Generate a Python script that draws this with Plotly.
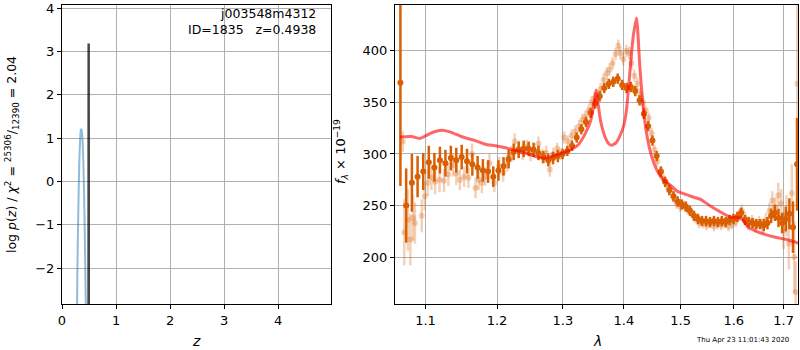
import plotly.graph_objects as go

# ---------------- data ----------------
# left panel: log p(z)
pz_z = [0.276, 0.283, 0.290, 0.300, 0.310, 0.320, 0.330, 0.340, 0.350, 0.360, 0.370,
        0.380, 0.390, 0.400, 0.410, 0.420, 0.430, 0.440, 0.450]
pz_logp = [-3.2, -2.3, -1.6, -0.85, -0.15, 0.40, 0.80, 1.06, 1.19, 1.20, 1.14,
           0.95, 0.63, 0.19, -0.38, -1.07, -1.89, -2.83, -3.3]
best_z = [0.4915, 0.4938, 0.4961]
best_logp = [-3.2, 3.18, -3.2]

# right panel: spectrum 1 (solid)
wave_a = [1.0670, 1.0745, 1.0820, 1.0895, 1.0970, 1.1045, 1.1120, 1.1195, 1.1270, 1.1345,
          1.1420, 1.1495, 1.1570, 1.1645, 1.1720, 1.1795, 1.1870, 1.1945, 1.2020, 1.2095,
          1.2170, 1.2245, 1.2320, 1.2395, 1.2470, 1.2545, 1.2620, 1.2695, 1.2770, 1.2845,
          1.2920, 1.2995, 1.3070, 1.3145, 1.3220, 1.3295, 1.3370, 1.3445, 1.3520, 1.3595,
          1.3670, 1.3745, 1.3820, 1.3895, 1.3970, 1.4045, 1.4120, 1.4195, 1.4270, 1.4345,
          1.4420, 1.4495, 1.4570, 1.4645, 1.4720, 1.4795, 1.4870, 1.4945, 1.5020, 1.5095,
          1.5170, 1.5245, 1.5320, 1.5395, 1.5470, 1.5545, 1.5620, 1.5695, 1.5770, 1.5845,
          1.5920, 1.5995, 1.6070, 1.6145, 1.6220, 1.6295, 1.6370, 1.6445, 1.6520, 1.6595,
          1.6670, 1.6745, 1.6820, 1.6895, 1.6970, 1.7045, 1.7120, 1.7195, 1.7280]
flux_a = [369, 250, 272, 278, 283, 292, 287, 294, 291, 296,
          294, 297, 293, 290, 287, 284, 283, 278, 284, 288,
          295, 302, 304, 305, 305, 304, 301, 297, 294, 296,
          298, 300, 303, 308, 316, 324, 331, 340, 349, 356,
          364, 368, 370, 373, 367, 364, 365, 361, 352, 339,
          327, 313, 298, 283, 273, 265, 259, 254, 251, 249,
          245, 240, 237, 235, 235, 234, 235, 234, 235, 234,
          236, 237, 239, 243, 236, 234, 233, 232, 232, 231,
          233, 240, 243, 238, 233, 237, 242, 229, 290]
err_a = [100, 36, 28, 20, 18, 16, 14, 13, 13, 12,
         12, 12, 12, 11, 11, 11, 11, 10, 10, 9,
         9, 8, 8, 8, 7, 7, 7, 6, 6, 6,
         6, 5, 5, 5, 5, 5, 5, 5, 5, 5,
         5, 5, 5, 5, 5, 5, 5, 5, 5, 5,
         5, 5, 5, 5, 5, 5, 5, 5, 5, 5,
         5, 5, 5, 5, 5, 5, 5, 5, 5, 5,
         5, 5, 5, 5, 5, 5, 5, 5, 5, 6,
         6, 7, 8, 9, 10, 12, 15, 25, 45]

# right panel: spectrum 2 (faint)
wave_b = [1.0700, 1.0720, 1.0767, 1.0800, 1.0835, 1.0860, 1.0950, 1.0990, 1.1030, 1.1080,
          1.1130, 1.1190, 1.1250, 1.1310, 1.1375, 1.1420, 1.1470, 1.1530, 1.1590, 1.1640,
          1.1690, 1.1735, 1.1780, 1.1830, 1.1890, 1.1960, 1.2030, 1.2090, 1.2150, 1.2210,
          1.2260, 1.2320, 1.2380, 1.2440, 1.2500, 1.2560, 1.2620, 1.2680, 1.2740, 1.2795,
          1.2850, 1.2910, 1.2960, 1.3020, 1.3080, 1.3140, 1.3200, 1.3260, 1.3310, 1.3360,
          1.3410, 1.3460, 1.3510, 1.3560, 1.3610, 1.3660, 1.3710, 1.3760, 1.3810, 1.3860,
          1.3905, 1.3940, 1.3990, 1.4040, 1.4090, 1.4130, 1.4180, 1.4230, 1.4280, 1.4330,
          1.4380, 1.4430, 1.4480, 1.4530, 1.4580, 1.4630, 1.4690, 1.4750, 1.4810, 1.4870,
          1.4930, 1.4990, 1.5060, 1.5130, 1.5200, 1.5270, 1.5340, 1.5410, 1.5480, 1.5550,
          1.5620, 1.5690, 1.5760, 1.5830, 1.5900, 1.5970, 1.6040, 1.6110, 1.6160, 1.6220,
          1.6290, 1.6360, 1.6430, 1.6500, 1.6570, 1.6640, 1.6710, 1.6770, 1.6830, 1.6890,
          1.6950, 1.7000, 1.7060, 1.7110, 1.7170, 1.7220, 1.7250, 1.7285]
flux_b = [312, 224, 236, 217, 238, 233, 240, 259, 272, 277,
          273, 275, 274, 280, 289, 281, 275, 278, 277, 300,
          267, 275, 272, 278, 291, 272, 288, 282, 291, 300,
          312, 305, 302, 307, 300, 303, 310, 298, 301, 285,
          300, 305, 300, 316, 312, 318, 322, 327, 333, 336,
          342, 350, 354, 357, 363, 372, 378, 382, 388, 397,
          405, 398, 392, 400, 398, 388, 376, 368, 358, 350,
          342, 335, 320, 304, 293, 282, 276, 270, 265, 258,
          252, 249, 250, 246, 243, 238, 233, 233, 231, 233,
          230, 232, 231, 233, 230, 232, 234, 241, 245, 238,
          232, 235, 230, 234, 230, 236, 245, 255, 248, 260,
          252, 226, 240, 213, 262, 200, 166, 368]
err_b = [10, 32, 30, 25, 22, 20, 16, 14, 13, 12,
         12, 12, 11, 11, 11, 11, 10, 10, 10, 10,
         10, 10, 10, 9, 9, 9, 9, 9, 8, 8,
         8, 8, 8, 7, 7, 7, 7, 7, 7, 7,
         6, 6, 6, 6, 6, 6, 6, 6, 6, 6,
         6, 6, 6, 6, 6, 6, 6, 6, 6, 6,
         6, 6, 6, 6, 6, 6, 6, 6, 6, 6,
         5, 5, 5, 5, 5, 5, 5, 5, 5, 5,
         5, 5, 5, 5, 5, 5, 5, 5, 5, 5,
         5, 5, 5, 5, 5, 5, 5, 6, 6, 6,
         6, 6, 6, 6, 7, 7, 8, 9, 10, 12,
         14, 18, 20, 25, 28, 35, 30, 80]

# right panel: best-fit model
model_wave = [1.0660, 1.0813, 1.0924, 1.1000, 1.1080, 1.1216, 1.1330, 1.1496, 1.1686, 1.1831,
              1.1975, 1.2123, 1.2300, 1.2500, 1.2605, 1.2720, 1.2815, 1.2975, 1.3135, 1.3245,
              1.3360, 1.3450, 1.3505, 1.3534, 1.3565, 1.3607, 1.3674, 1.3745, 1.3793, 1.3870,
              1.3942, 1.4000, 1.4045, 1.4111, 1.4160, 1.4217, 1.4274, 1.4332, 1.4391, 1.4479,
              1.4568, 1.4688, 1.4810, 1.4933, 1.5057, 1.5182, 1.5367, 1.5566, 1.5770, 1.5922,
              1.6116, 1.6181, 1.6280, 1.6446, 1.6646, 1.6851, 1.7059, 1.7350]
model_flux = [316.5, 317.0, 315.0, 317.5, 320.5, 323.0, 321.5, 316.7, 313.0, 309.5,
              308.0, 306.0, 303.0, 299.5, 297.0, 296.0, 297.5, 300.6, 304.5, 309.0,
              320.0, 333.0, 350.0, 362.0, 350.0, 333.0, 318.0, 310.0, 308.4, 311.0,
              318.8, 328.0, 343.0, 385.0, 414.0, 432.0, 385.0, 346.0, 320.0, 298.0,
              285.0, 275.0, 270.0, 264.0, 261.5, 259.0, 256.0, 249.0, 243.0, 239.0,
              238.0, 236.0, 229.0, 225.0, 221.6, 219.0, 217.0, 213.0]

wave_ticks = [1.1, 1.2, 1.3, 1.4, 1.5, 1.6, 1.7]
wave_ticklabels = ["1.1", "1.2", "1.3", "1.4", "1.5", "1.6", "1.7"]

obj_name = "j003548m4312"
obj_info = "ID=1835   z=0.4938"
timestamp = "Thu Apr 23 11:01:43 2020"

# ---------------- figure ----------------
FONT = "DejaVu Sans"
ORANGE = "rgb(217,95,2)"
ORANGE_A = "rgba(217,95,2,0.28)"

fig = go.Figure()

fig.add_trace(go.Scatter(x=pz_z, y=pz_logp, mode="lines",
                         line=dict(color="rgba(31,119,180,0.5)", width=2, shape="spline",
                                   smoothing=0.8),
                         xaxis="x", yaxis="y", showlegend=False))
fig.add_trace(go.Scatter(x=best_z, y=best_logp, mode="lines",
                         line=dict(color="rgba(0,0,0,0.72)", width=2.5),
                         xaxis="x", yaxis="y", showlegend=False))

fig.add_trace(go.Scatter(x=wave_b, y=flux_b, mode="markers",
                         marker=dict(color=ORANGE_A, size=6, line=dict(width=0)),
                         error_y=dict(type="data", array=err_b, color=ORANGE_A,
                                      thickness=2.5, width=0),
                         xaxis="x2", yaxis="y2", showlegend=False))
fig.add_trace(go.Scatter(x=wave_a, y=flux_a, mode="markers",
                         marker=dict(color=ORANGE, size=6, line=dict(width=0)),
                         error_y=dict(type="data", array=err_a, color=ORANGE,
                                      thickness=2.5, width=0),
                         xaxis="x2", yaxis="y2", showlegend=False))
fig.add_trace(go.Scatter(x=model_wave, y=model_flux, mode="lines",
                         line=dict(color="rgba(255,0,0,0.6)", width=3, shape="spline",
                                   smoothing=0.6),
                         xaxis="x2", yaxis="y2", showlegend=False))

ax_common = dict(showline=True, mirror=True, linecolor="black", linewidth=1,
                 ticks="outside", ticklen=4, tickcolor="black", tickwidth=1,
                 showgrid=True, gridcolor="#b0b0b0", gridwidth=1, zeroline=False,
                 automargin=False,
                 tickfont=dict(family=FONT, size=13, color="black"))

ydom = [1 - 304 / 350, 1 - 5 / 350]

fig.update_layout(
    width=800, height=350,
    margin=dict(l=0, r=0, t=0, b=0, pad=0),
    paper_bgcolor="white", plot_bgcolor="white",
    font=dict(family=FONT, color="black"),
    xaxis=dict(domain=[62 / 800, 331 / 800], range=[0, 4.98],
               tickvals=[0, 1, 2, 3, 4], anchor="y", **ax_common),
    yaxis=dict(domain=ydom, range=[-2.83, 4.07],
               tickvals=[-2, -1, 0, 1, 2, 3, 4], anchor="x", **ax_common),
    xaxis2=dict(domain=[395 / 800, 798 / 800], type="log",
                range=[0.02531, 0.23805],
                tickvals=wave_ticks, ticktext=wave_ticklabels, anchor="y2", **ax_common),
    yaxis2=dict(domain=ydom, range=[154.5, 444.5],
                tickvals=[200, 250, 300, 350, 400], anchor="x2", **ax_common),
)

ann = []
ann.append(dict(x=318 / 800, y=1 - 22 / 350, xref="paper", yref="paper",
                text=obj_name + "<br>" + obj_info, showarrow=False, align="right",
                xanchor="right", yanchor="middle",
                font=dict(family=FONT, size=12.5, color="black")))
ann.append(dict(x=196 / 800, y=1 - 341 / 350, xref="paper", yref="paper",
                text="<i>z</i>", showarrow=False, xanchor="center", yanchor="middle",
                font=dict(family=FONT, size=14, color="black")))
ann.append(dict(x=597 / 800, y=1 - 341 / 350, xref="paper", yref="paper",
                text="<i>λ</i>", showarrow=False, xanchor="center", yanchor="middle",
                font=dict(family=FONT, size=14, color="black")))
ann.append(dict(x=12 / 800, y=1 - 155 / 350, xref="paper", yref="paper",
                text="log <i>p</i>(<i>z</i>) / <i>χ</i><sup>2</sup> = "
                     "<sup>25306</sup>/<sub>12390</sub> = 2.04",
                textangle=-90, showarrow=False, xanchor="center", yanchor="middle",
                font=dict(family=FONT, size=12.5, color="black")))
ann.append(dict(x=341 / 800, y=1 - 152 / 350, xref="paper", yref="paper",
                text="<i>f</i><sub><i>λ</i></sub> × 10<sup>−19</sup>",
                textangle=-90, showarrow=False, xanchor="center", yanchor="middle",
                font=dict(family=FONT, size=13, color="black")))
ann.append(dict(x=742 / 800, y=1 - 340 / 350, xref="paper", yref="paper",
                text=timestamp, showarrow=False, xanchor="center", yanchor="middle",
                font=dict(family=FONT, size=7, color="black")))
fig.update_layout(annotations=ann)

fig.write_html(
    "out.html",
    config={"displayModeBar": False},
    post_script="document.body.style.margin='0px';"
                "document.body.style.padding='0px';"
                "document.body.style.overflow='hidden';"
                "document.documentElement.style.overflow='hidden';",
)
